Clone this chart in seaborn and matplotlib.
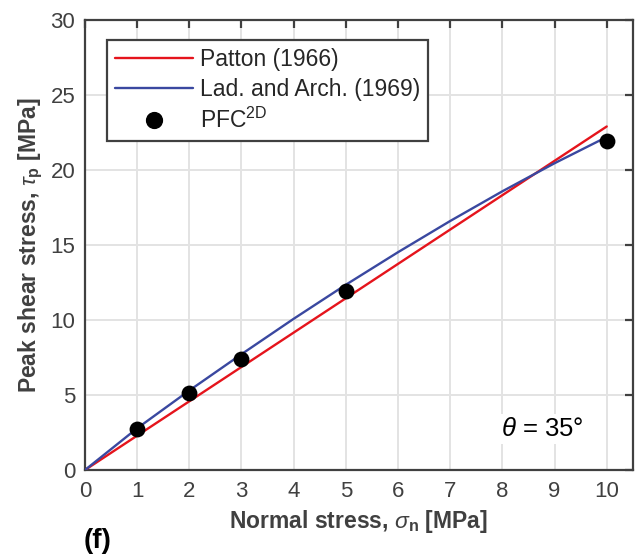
import matplotlib
matplotlib.use("Agg")
import numpy as np
import pandas as pd
import seaborn as sns
import matplotlib.pyplot as plt
from matplotlib.lines import Line2D

# ---- data ----
sigma_patton = [0.0, 10.0]
tau_patton = [0.0, 22.9]

sigma_la = [0, 1, 2, 3, 4, 5, 6, 7, 8, 9, 10]
tau_la = [0.0, 2.78, 5.30, 7.72, 10.08, 12.35, 14.52, 16.60, 18.58, 20.45, 22.20]

sigma_pfc = [1, 2, 3, 5, 10]
tau_pfc = [2.75, 5.10, 7.42, 11.95, 21.95]

xticks = [0, 1, 2, 3, 4, 5, 6, 7, 8, 9, 10]
yticks = [0, 5, 10, 15, 20, 25, 30]

# ---- style ----
sns.set_style("white")
plt.rcParams['font.family'] = ['Liberation Sans', 'DejaVu Sans']
plt.rcParams['mathtext.fontset'] = 'custom'
plt.rcParams['mathtext.rm'] = 'Liberation Sans'
plt.rcParams['mathtext.it'] = 'Liberation Sans:italic'
plt.rcParams['mathtext.bf'] = 'Liberation Sans:bold'

gray = '#404040'
red = '#e5141c'
blue = '#3a48a0'

fig = plt.figure(figsize=(6.36, 5.58), dpi=100)
ax = fig.add_axes([0.1336, 0.1577, 0.8614, 0.8065])

df_p = pd.DataFrame({'x': sigma_patton, 'y': tau_patton})
df_l = pd.DataFrame({'x': sigma_la, 'y': tau_la})
df_f = pd.DataFrame({'x': sigma_pfc, 'y': tau_pfc})

sns.lineplot(data=df_p, x='x', y='y', ax=ax, color=red, lw=1.7, zorder=3)
sns.lineplot(data=df_l, x='x', y='y', ax=ax, color=blue, lw=1.7, zorder=3)
sns.scatterplot(data=df_f, x='x', y='y', ax=ax, color='black', s=130,
                edgecolor='black', linewidth=0, zorder=4)

ax.set_xlim(0, 10.5)
ax.set_ylim(0, 30)
ax.set_xticks(xticks)
ax.set_yticks(yticks)
ax.grid(True, color='#e3e3e3', lw=1.4, zorder=0)
ax.set_axisbelow(True)

for s in ax.spines.values():
    s.set_visible(True)
    s.set_color(gray)
    s.set_linewidth(1.6)

ax.tick_params(direction='in', length=6, width=1.6, color=gray,
               labelcolor=gray, labelsize=16, top=True, right=True)
ax.tick_params(axis='x', pad=8)
ax.tick_params(axis='y', pad=7)

ax.set_xlabel(r"Normal stress, $\sigma_{\mathbf{n}}$ [MPa]", fontsize=16.5,
              fontweight='bold', color=gray, labelpad=4)
ax.set_ylabel(r"Peak shear stress, $\tau_{\mathbf{p}}$ [MPa]", fontsize=16.5,
              fontweight='bold', color=gray, labelpad=4)

handles = [
    Line2D([], [], color=red, lw=1.7),
    Line2D([], [], color=blue, lw=1.7),
    Line2D([], [], color='black', marker='o', ls='none', markersize=11.4),
]
labels = ['Patton (1966)', 'Lad. and Arch. (1969)', r'PFC$^{\mathrm{2D}}$']
leg = ax.legend(handles, labels, loc='upper left', bbox_to_anchor=(0.04, 0.956),
                fontsize=16.5, frameon=True, fancybox=False, framealpha=1,
                edgecolor=gray, handlelength=3.4, handletextpad=0.3,
                borderpad=0.35, labelspacing=0.3, borderaxespad=0)
leg.get_frame().set_linewidth(1.6)

ax.text(8.76, 2.75, r"$\theta$ = 35°", fontsize=18.5, ha='center', va='center',
        color='black', zorder=5,
        bbox=dict(facecolor='white', edgecolor='none', pad=2))

fig.text(0.154, 0.03, "(f)", fontsize=20, fontweight='bold', color='black',
         ha='center', va='center')

fig.savefig("out.png", dpi=100)
